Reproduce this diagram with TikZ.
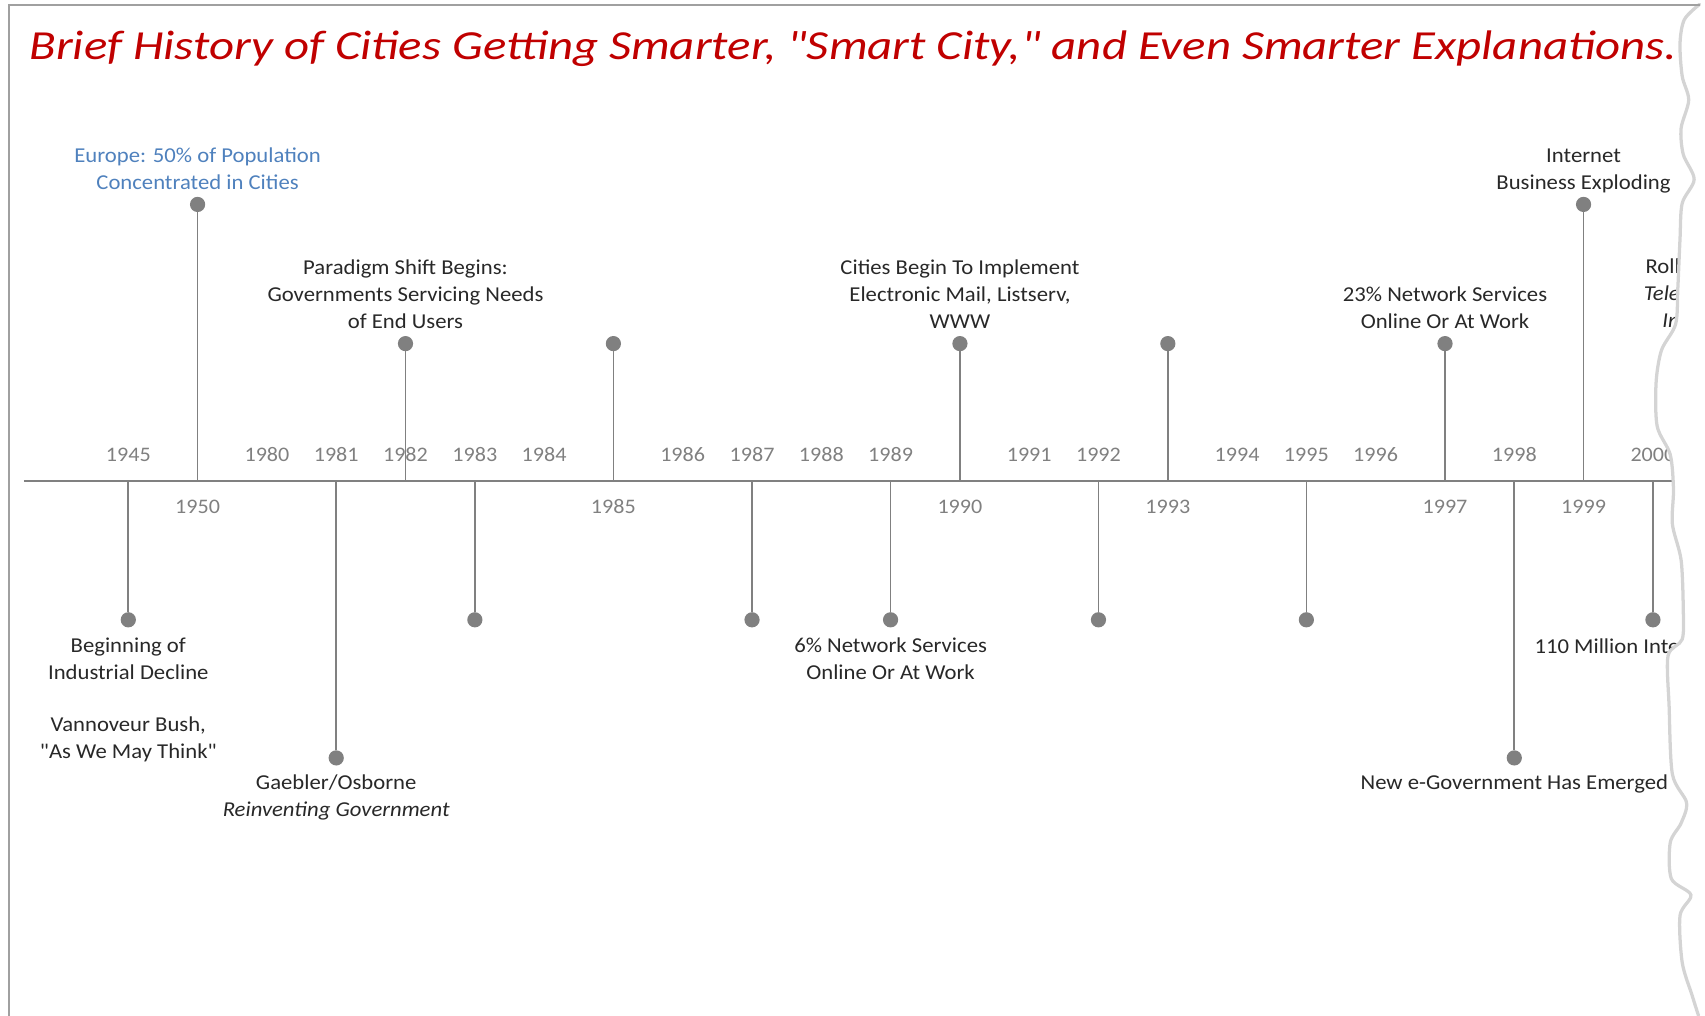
\documentclass[tikz,border=0pt]{standalone}
\usepackage{fontspec}
\setmainfont{Carlito}[FakeStretch=1.07, Ligatures=TeXOff]
\newfontfamily\headfam{Carlito}[FakeStretch=1.182, Ligatures=TeXOff]
\usepackage{tikz}

\definecolor{titlered}{RGB}{192,0,0}
\definecolor{popblue}{RGB}{79,129,189}
\definecolor{evtext}{RGB}{40,40,40}
\definecolor{yeargray}{RGB}{128,128,128}
\definecolor{tornedge}{RGB}{212,212,212}
\definecolor{framegray}{RGB}{160,160,160}

\tikzset{
  dot/.style={circle, fill=yeargray, inner sep=0pt, minimum size=14pt},
  stem/.style={color=yeargray, line width=1.5pt},
  yr/.style={anchor=base, inner sep=0pt, text=yeargray, font=\fontsize{19}{23}\selectfont},
  evt/.style={text=evtext, font=\fontsize{19.5}{25}\selectfont, align=center, inner sep=0pt,
    execute at begin node=\strut, execute at end node=\strut},
  up/.style={evt, label distance=-1pt},
  dn/.style={evt, label distance=9pt},
  headline/.style={anchor=base west, inner sep=0pt, text=titlered, font=\headfam\fontsize{38}{45}\selectfont\itshape}
}

\begin{document}
\begin{tikzpicture}[x=1pt,y=-1pt]
\useasboundingbox (0,0) rectangle (1568,934);
\begin{scope}
\clip (0,0) -- plot[smooth] coordinates {(1563,4) (1549,18) (1545,40) (1547,70) (1553,92) (1546,118) (1548,142) (1558,165) (1547,187) (1545,220) (1543,265) (1541,298) (1528,322) (1523,352) (1524,392) (1536,418) (1539,450) (1538,482) (1546,515) (1548,560) (1547,588) (1534,603) (1535,650) (1538,712) (1551,738) (1546,757) (1536,775) (1537,808) (1555,823) (1545,842) (1547,885) (1556,915) (1562,934)} -- (0,934) -- cycle;

\node (title) at (27,55) [headline] {Brief History of Cities Getting Smarter, "Smart City," and Even Smarter Explanations.};

% time axis
\coordinate (axL) at (22,442);
\coordinate (axR) at (1568,442);
\draw[color=yeargray, line width=2pt] (axL) -- (axR);

% years above the axis
\node (y1945) at (118,424) [yr] {1945};
\node (y1980) at (245.5,424) [yr] {1980};
\node (y1981) at (309.2,424) [yr] {1981};
\node (y1982) at (372.9,424) [yr] {1982};
\node (y1983) at (436.7,424) [yr] {1983};
\node (y1984) at (500.4,424) [yr] {1984};
\node (y1986) at (627.8,424) [yr] {1986};
\node (y1987) at (691.6,424) [yr] {1987};
\node (y1988) at (755.3,424) [yr] {1988};
\node (y1989) at (819,424) [yr] {1989};
\node (y1991) at (946.5,424) [yr] {1991};
\node (y1992) at (1010.2,424) [yr] {1992};
\node (y1994) at (1137.7,424) [yr] {1994};
\node (y1995) at (1201.4,424) [yr] {1995};
\node (y1996) at (1265.1,424) [yr] {1996};
\node (y1998) at (1392.6,424) [yr] {1998};
\node (y2000) at (1520.1,424) [yr] {2000};
% years below the axis
\node (y1950) at (181.7,472) [yr] {1950};
\node (y1985) at (564.1,472) [yr] {1985};
\node (y1990) at (882.8,472) [yr] {1990};
\node (y1993) at (1074,472) [yr] {1993};
\node (y1997) at (1328.9,472) [yr] {1997};
\node (y1999) at (1456.3,472) [yr] {1999};

% events
\coordinate (a1945) at (118,442);
\node (e1945) at (118,570) [dot, label={[dn]below:{Beginning of\\Industrial Decline\\[23pt]Vannoveur Bush,\\"As We May Think"}}] {};
\draw[stem] (a1945) -- (e1945);

\coordinate (a1950) at (181.7,442);
\node (e1950) at (181.7,188) [dot, label={[up, text=popblue]above:{Europe: 50\% of Population\\Concentrated in Cities}}] {};
\draw[stem] (a1950) -- (e1950);

\coordinate (a1981) at (309.2,442);
\node (e1981) at (309.2,697) [dot, label={[dn, label distance=8pt]below:{Gaebler/Osborne\\\textit{Reinventing Government}}}] {};
\draw[stem] (a1981) -- (e1981);

\coordinate (a1982) at (372.9,442);
\node (e1982) at (372.9,316) [dot, label={[up]above:{Paradigm Shift Begins:\\Governments Servicing Needs\\of End Users}}] {};
\draw[stem] (a1982) -- (e1982);

\coordinate (a1983) at (436.7,442);
\node (e1983) at (436.7,570) [dot] {};
\draw[stem] (a1983) -- (e1983);

\coordinate (a1985) at (564.1,442);
\node (e1985) at (564.1,316) [dot] {};
\draw[stem] (a1985) -- (e1985);

\coordinate (a1987) at (691.6,442);
\node (e1987) at (691.6,570) [dot] {};
\draw[stem] (a1987) -- (e1987);

\coordinate (a1989) at (819,442);
\node (e1989) at (819,570) [dot, label={[dn]below:{6\% Network Services\\Online Or At Work}}] {};
\draw[stem] (a1989) -- (e1989);

\coordinate (a1990) at (882.8,442);
\node (e1990) at (882.8,316) [dot, label={[up]above:{Cities Begin To Implement\\Electronic Mail, Listserv,\\WWW}}] {};
\draw[stem] (a1990) -- (e1990);

\coordinate (a1992) at (1010.2,442);
\node (e1992) at (1010.2,570) [dot] {};
\draw[stem] (a1992) -- (e1992);

\coordinate (a1993) at (1074,442);
\node (e1993) at (1074,316) [dot] {};
\draw[stem] (a1993) -- (e1993);

\coordinate (a1995) at (1201.4,442);
\node (e1995) at (1201.4,570) [dot] {};
\draw[stem] (a1995) -- (e1995);

\coordinate (a1997) at (1328.9,442);
\node (e1997) at (1328.9,316) [dot, label={[up]above:{23\% Network Services\\Online Or At Work}}] {};
\draw[stem] (a1997) -- (e1997);

\coordinate (a1998) at (1392.6,442);
\node (e1998) at (1392.6,697) [dot, label={[dn, label distance=4pt]below:{New e-Government Has Emerged}}] {};
\draw[stem] (a1998) -- (e1998);

\coordinate (a1999) at (1456.3,442);
\node (e1999) at (1456.3,188) [dot, label={[up]above:{Internet\\Business Exploding}}] {};
\draw[stem] (a1999) -- (e1999);

\coordinate (a2000) at (1520.1,442);
\node (e2000) at (1520.1,570) [dot] {};
\draw[stem] (a2000) -- (e2000);
\node (l2000) at (1411,583) [evt, anchor=north west] {110 Million Inter};

% cut off at the torn edge
\node (l2001) at (1545,309) [evt, anchor=south east, align=right] {Roll\\\textit{Tele}\\\textit{In}};
\end{scope}

% frame and torn edge
\draw[color=tornedge, line width=3pt, line cap=round] plot[smooth] coordinates {(1563,4) (1549,18) (1545,40) (1547,70) (1553,92) (1546,118) (1548,142) (1558,165) (1547,187) (1545,220) (1543,265) (1541,298) (1528,322) (1523,352) (1524,392) (1536,418) (1539,450) (1538,482) (1546,515) (1548,560) (1547,588) (1534,603) (1535,650) (1538,712) (1551,738) (1546,757) (1536,775) (1537,808) (1555,823) (1545,842) (1547,885) (1556,915) (1562,934)};
\draw[color=framegray, line width=1.8pt] (8,934) -- (8,5) -- (1563,5);
\end{tikzpicture}
\end{document}
